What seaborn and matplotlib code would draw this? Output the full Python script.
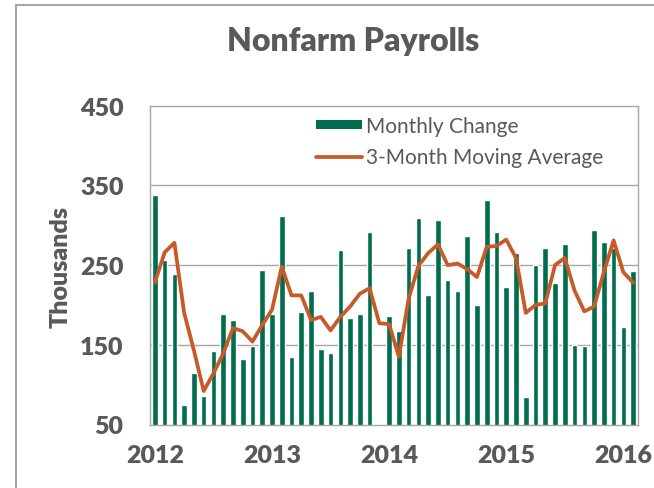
import numpy as np
import pandas as pd
import matplotlib
matplotlib.use("Agg")
import matplotlib.pyplot as plt
import seaborn as sns
from matplotlib.patches import Patch, Rectangle
from matplotlib.lines import Line2D

# monthly payroll change, Jan 2012 - Feb 2016 (thousands)
monthly_change = [338, 257, 239, 74, 115, 86, 142, 189, 181, 132, 149, 244,
                  189, 311, 135, 191, 218, 145, 140, 269, 184, 189, 291, 51,
                  186, 167, 272, 309, 213, 306, 231, 218, 286, 200, 332, 291,
                  222, 265, 84, 250, 272, 228, 277, 150, 149, 294, 279, 271,
                  172, 242]
moving_avg = [228, 266, 278, 190, 143, 92, 114, 139, 171, 167, 154, 175,
              194, 248, 212, 212, 181, 185, 168, 185, 198, 214, 221, 177,
              176, 135, 208, 249, 265, 276, 250, 252, 245, 235, 273, 274,
              282, 259, 190, 200, 202, 250, 259, 218, 192, 198, 241, 281,
              241, 228]
year_labels = ["2012", "2013", "2014", "2015", "2016"]
y_ticks = [50, 150, 250, 350, 450]

months = pd.date_range("2012-01-01", periods=len(monthly_change), freq="MS")
df = pd.DataFrame({"idx": np.arange(len(months)), "month": months,
                   "change": monthly_change, "ma": moving_avg})

sns.set_theme(style="white")
plt.rcParams["font.family"] = ["Lato", "DejaVu Sans"]

GREEN = "#006D4E"
ORANGE = "#C65A28"
GRAY_TXT = "#595959"
GRID = "#A6A6A6"

fig = plt.figure(figsize=(6.54, 4.89), dpi=100)
ax = fig.add_axes([150 / 654, 1 - 425.5 / 489, 488 / 654, 318.8 / 489])

sns.barplot(data=df, x="idx", y="change", native_scale=True, width=0.57,
            color=GREEN, saturation=1, ax=ax, zorder=2)
sns.lineplot(data=df, x="idx", y="ma", color=ORANGE, linewidth=2.7, ax=ax,
             zorder=3)

ax.set_xlim(-0.5, len(months) - 0.5)
ax.set_ylim(50, 450)
ax.set_yticks(y_ticks)
ax.set_xticks(df["idx"][df["month"].dt.month == 1])
ax.set_xticklabels(year_labels)
ax.set_xlabel("")
ax.set_ylabel("")
for y in y_ticks[1:-1]:
    ax.axhline(y, color=GRID, linewidth=1, zorder=1)
for s in ax.spines.values():
    s.set_color(GRID)
    s.set_linewidth(1)
ax.tick_params(length=0, labelsize=18, labelcolor=GRAY_TXT)
ax.tick_params(axis="y", pad=19)
ax.tick_params(axis="x", pad=14)
for lab in ax.get_xticklabels() + ax.get_yticklabels():
    lab.set_fontweight("heavy")

handles = [Patch(facecolor=GREEN, edgecolor="none", label="Monthly Change"),
           Line2D([0], [0], color=ORANGE, linewidth=2.7,
                  label="3-Month Moving Average")]
ax.legend(handles=handles, loc="upper left",
          bbox_to_anchor=(316 / 654, 1 - 117 / 489),
          bbox_transform=fig.transFigure, frameon=False, fontsize=15,
          labelcolor=GRAY_TXT, handlelength=2.2, handleheight=0.3,
          handletextpad=0.2, labelspacing=0.55, borderpad=0, borderaxespad=0)

fig.text(353 / 654, 1 - 42 / 489, "Nonfarm Payrolls", ha="center",
         va="center", fontsize=23, fontweight="heavy", color=GRAY_TXT)
fig.text(61 / 654, 1 - 267 / 489, "Thousands", ha="center", va="center",
         rotation=90, fontsize=18, fontweight="heavy", color=GRAY_TXT)

# chart frame (cropped at right and bottom)
fig.patches.append(Rectangle((16 / 654, -0.1), 1.2, 1.1 - 6 / 489,
                             transform=fig.transFigure, fill=False,
                             edgecolor=GRID, linewidth=1.5))

fig.savefig("out.png", dpi=100)
